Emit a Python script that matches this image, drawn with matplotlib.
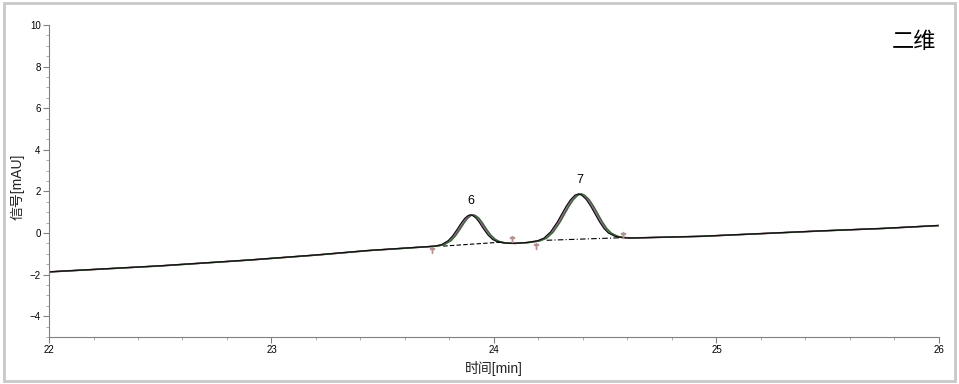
import matplotlib
matplotlib.use("Agg")
import matplotlib.pyplot as plt
from matplotlib.patches import Rectangle
from matplotlib.ticker import MultipleLocator

plt.rcParams['font.family'] = ['Liberation Sans', 'Noto Sans CJK SC', 'DejaVu Sans']

# 色谱图读数 (时间 min, 信号 mAU)
time = [22.0, 22.5, 22.9, 23.2, 23.44, 23.70, 23.74, 23.77, 23.80, 23.82,
        23.84, 23.86, 23.875, 23.89, 23.90, 23.91, 23.925, 23.94, 23.96, 23.98,
        24.00, 24.02, 24.05, 24.09, 24.15, 24.20, 24.23, 24.26, 24.29, 24.31,
        24.33, 24.35, 24.37, 24.387, 24.40, 24.42, 24.44, 24.46, 24.48, 24.50,
        24.52, 24.55, 24.58, 24.62, 24.93, 25.2, 25.47, 25.75, 26.0]
signal = [-1.87, -1.58, -1.30, -1.06, -0.84, -0.66, -0.63, -0.56, -0.37, -0.14,
          0.17, 0.50, 0.71, 0.84, 0.87, 0.84, 0.72, 0.51, 0.18, -0.11,
          -0.31, -0.42, -0.48, -0.50, -0.46, -0.38, -0.25, 0.05, 0.52, 0.90,
          1.28, 1.60, 1.82, 1.88, 1.82, 1.62, 1.30, 0.92, 0.54, 0.22,
          0.00, -0.16, -0.22, -0.24, -0.16, -0.03, 0.10, 0.22, 0.36]

# 多次进样叠加: 各条曲线的时间偏移和颜色 (后画的在上层)
shifts = [0.0, -0.003, 0.003, 0.007, -0.006]
colors = ['#c09a9a', '#8c8c8c', '#b050b0', '#2f6e2a', '#111111']
widths = [1.2, 1.0, 1.0, 1.0, 0.85]

# 积分基线
base6_t = [23.772, 24.034]
base6_s = [-0.63, -0.44]
base7_t = [24.237, 24.566]
base7_s = [-0.35, -0.23]

# 峰标记
peak_t = [23.895, 24.387]
peak_s = [1.55, 2.55]
peak_names = ['6', '7']

# 积分起止标记
mark_t = [23.72, 24.08, 24.19, 24.58]
mark_s = [-0.82, -0.28, -0.62, -0.08]

fig = plt.figure(figsize=(9.59, 3.84), dpi=100)
ax = fig.add_axes([0.0511, 0.1224, 0.928, 0.8125])

for dt, c, w in zip(shifts, colors, widths):
    ax.plot([t + dt for t in time], signal, color=c, lw=w)

ax.plot(base6_t, base6_s, color='black', lw=0.8, ls=(0, (4, 2)))
ax.plot(base7_t, base7_s, color='black', lw=0.8, ls=(0, (5, 2, 1, 2)))
ax.plot(mark_t, mark_s, ls='none', marker=r'$\dagger$', ms=5, color='#b89090')

for t, s, name in zip(peak_t, peak_s, peak_names):
    ax.text(t, s, name, ha='center', va='center', fontsize=9)

ax.set_xlim(22, 26)
ax.set_ylim(-5, 10)
ax.xaxis.set_major_locator(MultipleLocator(1))
ax.xaxis.set_minor_locator(MultipleLocator(0.2))
ax.yaxis.set_minor_locator(MultipleLocator(0.5))
ax.set_yticks([-4, -2, 0, 2, 4, 6, 8, 10])
ax.tick_params(which='major', length=4, width=0.8, color='#808080', labelsize=7, pad=2)
ax.tick_params(which='minor', length=2, width=0.6, color='#a0a0a0')
for side in ['top', 'right']:
    ax.spines[side].set_visible(False)
for side in ['left', 'bottom']:
    ax.spines[side].set_color('#808080')
    ax.spines[side].set_linewidth(0.8)

ax.set_xlabel('时间[min]', fontsize=10, labelpad=4, color='#222222')
ax.set_ylabel('信号[mAU]', fontsize=10, color='#222222')
ax.yaxis.set_label_coords(-0.028, 0.48)

fig.text(0.976, 0.89, '二维', ha='right', va='center', fontsize=16)

fig.patches.append(Rectangle((0.004, 0.008), 0.992, 0.984, transform=fig.transFigure,
                             fill=False, edgecolor='#c8c8c8', lw=2))

fig.savefig('out.png', dpi=100)
